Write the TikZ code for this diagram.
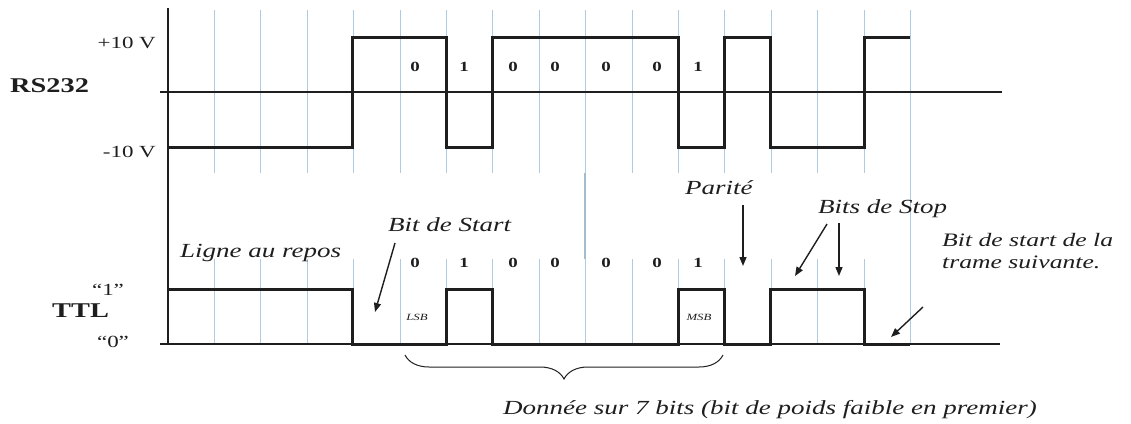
\documentclass[tikz,border=0pt]{standalone}
\usepackage{fontspec}
\setmainfont{Liberation Serif}
\newfontfamily\lblfont[FakeStretch=1.35]{Liberation Serif}
\usetikzlibrary{arrows.meta,decorations.pathreplacing}
\definecolor{gridblue}{RGB}{175,203,225}
\definecolor{ink}{RGB}{30,30,30}
\tikzset{
  gridline/.style={gridblue, line width=1pt},
  axisline/.style={ink, line width=1.3pt},
  wave/.style={ink, line width=3pt, line join=miter},
  callout/.style={ink, line width=1.4pt, -{Triangle[width=7pt,length=9pt]}},
  itlabel/.style={ink, font=\lblfont\itshape\fontsize{20}{22}\selectfont, inner sep=0pt},
  uplabel/.style={ink, font=\lblfont\fontsize{17}{20}\selectfont, inner sep=0pt},
  boldlabel/.style={ink, font=\lblfont\bfseries\fontsize{21}{24}\selectfont, inner sep=0pt},
  bitlabel/.style={ink, font=\lblfont\bfseries\fontsize{14}{16}\selectfont, inner sep=0pt},
  levellabel/.style={ink, font=\lblfont\fontsize{17}{19}\selectfont, inner sep=0pt},
  smalllabel/.style={ink, font=\lblfont\itshape\fontsize{9.5}{10}\selectfont, inner sep=0pt},
}
\begin{document}
\begin{tikzpicture}[x=1pt,y=-1pt]
\useasboundingbox (0,0) rectangle (1131,423);
% grid lines
\foreach \k in {1,...,15}{
  \draw[gridline] ({168+46.4*\k},10) -- ({168+46.4*\k},173);
  \draw[gridline] ({168+46.4*\k},259) -- ({168+46.4*\k},344);
}
\draw[gridline] (910,10) -- (910,344);
\draw[gridblue!80!gray, line width=1.6pt] (585,173) -- (585,259);
% axes
\draw[axisline] (168,8) -- (168,345);
\draw[axisline] (160,92) -- (1002,92);
\draw[axisline] (160,344) -- (1000,344);
% RS232 waveform
\draw[wave] (168,147) -- (352,147) -- (352,37) -- (446,37) -- (446,147) -- (492,147)
  -- (492,37) -- (678,37) -- (678,147) -- (724,147) -- (724,37) -- (770,37)
  -- (770,147) -- (864,147) -- (864,37) -- (910,37);
% TTL waveform
\draw[wave] (168,289) -- (352,289) -- (352,344) -- (446,344) -- (446,289) -- (492,289)
  -- (492,344) -- (678,344) -- (678,289) -- (724,289) -- (724,344) -- (770,344)
  -- (770,289) -- (864,289) -- (864,344) -- (910,344);
% left labels
\node[uplabel, anchor=east] (plus) at (156,43) {+10 V};
\node[uplabel, anchor=east] (minus) at (156,152) {-10 V};
\node[boldlabel, anchor=west] (rs) at (10,86) {RS232};
\node[boldlabel, anchor=west] (ttl) at (52,311) {TTL};
\node[levellabel] (one) at (108,290) {“1”};
\node[levellabel] (zero) at (113,342) {“0”};
% bit labels
\foreach \x/\b [count=\i] in {415/0,464/1,513/0,555/0,606/0,657/0,698/1}{
  \node[bitlabel] (rb\i) at (\x,67) {\b};
  \node[bitlabel] (tb\i) at (\x,263) {\b};
}
\node[smalllabel] (lsb) at (417,317) {LSB};
\node[smalllabel] (msb) at (699,317) {MSB};
% annotations
\node[itlabel, anchor=west] (repos) at (180,253) {Ligne au repos};
\node[itlabel, anchor=west] (start) at (388,225) {Bit de Start};
\node[itlabel, anchor=west] (parite) at (685,188) {Parité};
\node[itlabel, anchor=west] (stop) at (818,209) {Bits de Stop};
\node[itlabel, anchor=west, align=left, font=\lblfont\itshape\fontsize{19}{22}\selectfont] (next) at (942,251) {Bit de start de la\\trame suivante.};
\node[itlabel, anchor=west] (donnee) at (503,410) {Donnée sur 7 bits (bit de poids faible en premier)};
% arrows
\coordinate (s1) at (395,243); \coordinate (s2) at (375,312);
\draw[callout] (s1) -- (s2);
\coordinate (p1) at (743,205); \coordinate (p2) at (743,266);
\draw[callout] (p1) -- (p2);
\coordinate (a1) at (827,224); \coordinate (a2) at (795,276);
\draw[callout] (a1) -- (a2);
\coordinate (b1) at (839,223); \coordinate (b2) at (839,276);
\draw[callout] (b1) -- (b2);
\coordinate (n1) at (923,307); \coordinate (n2) at (891,337);
\draw[callout] (n1) -- (n2);
% brace
\coordinate (br1) at (723,355); \coordinate (br2) at (405,355);
\draw[ink, line width=1pt, decorate, decoration={brace, amplitude=24pt, aspect=0.5}] (br1) -- (br2);
\end{tikzpicture}
\end{document}
